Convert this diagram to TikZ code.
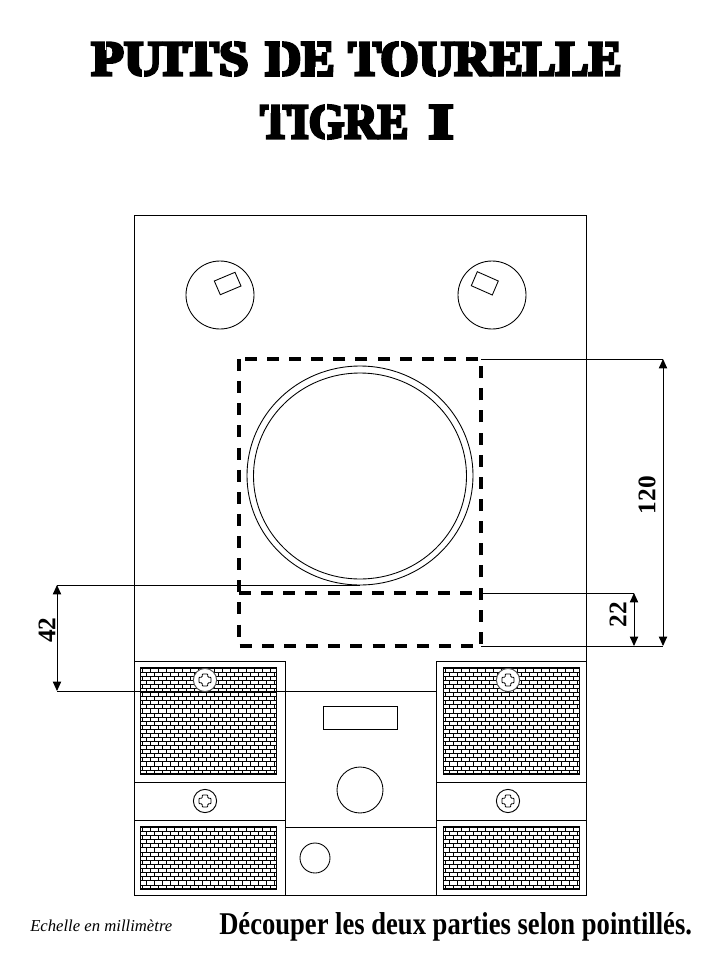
\documentclass[tikz,border=0pt]{standalone}
\usepackage{fontspec}
\usepackage{graphicx}
\setmainfont{Liberation Serif}
\usetikzlibrary{arrows.meta}
\tikzset{
  px/.style={x=0.75pt,y=-0.75pt},
  frameline/.style={line width=0.75pt,black},
  panelframe/.style={line width=0.95pt,black},
  thin line/.style={line width=0.65pt,black},
  brickline/.style={line width=0.42pt,black},
  cutline/.style={line width=2.4pt,black,dash pattern=on 9pt off 7.6pt},
  dimline/.style={line width=0.7pt,black,{Triangle[length=7pt,width=6.2pt]}-{Triangle[length=7pt,width=6.2pt]}},
  extline/.style={line width=0.7pt,black},
  dimtext/.style={font=\bfseries\fontsize{19}{20}\selectfont,rotate=90,inner sep=0pt},
  titletext/.style={inner sep=0pt,anchor=west},
  stencilgap/.style={line width=1pt,white},
  screwhead/.style={line width=0.7pt,fill=white,circle,minimum size=17.4pt,inner sep=0pt},
}
\newfontfamily\titlefont[FakeBold=6]{Liberation Serif Bold}
\newcommand{\brickpanel}[5]{%
  \begin{scope}
    \clip (#1,#2) rectangle (#3,#4);
    \foreach \r in {0,...,#5}{
      \pgfmathsetmacro{\yy}{#2+(#4-#2)*\r/(#5)}
      \draw[brickline] (#1,\yy) -- (#3,\yy);
      \pgfmathsetmacro{\yb}{#2+(#4-#2)*(\r+1)/(#5)}
      \pgfmathsetmacro{\off}{mod(\r,2)*4}
      \foreach \k in {0,...,17}{
        \pgfmathsetmacro{\xx}{#1+2+\off+\k*8}
        \draw[brickline] (\xx,\yy) -- (\xx,\yb);
      }
    }
  \end{scope}
  \draw[panelframe] (#1,#2) rectangle (#3,#4);
}
\newcommand{\screw}[4]{%
  \node[screwhead,draw=#4] (#1) at (#2,#3) {};
  \draw[thin line,rounded corners=0.6pt,shift={(#2,#3)}]
    (-2.8,-6)--(2.8,-6)--(2.8,-2.8)--(6,-2.8)--(6,2.8)--(2.8,2.8)--(2.8,6)--(-2.8,6)--(-2.8,2.8)--(-6,2.8)--(-6,-2.8)--(-2.8,-2.8)--cycle;
}
\begin{document}
\begin{tikzpicture}[px]
\useasboundingbox (0,0) rectangle (720,960);
\fill[white] (0,0) rectangle (720,960);

% title
\node[titletext] (t1) at (91,59) {\resizebox{118pt}{24.5pt}{\titlefont PUITS}};
\node[titletext] (t2) at (265,59) {\resizebox{52pt}{24.5pt}{\titlefont DE}};
\node[titletext] (t3) at (348,59) {\resizebox{205pt}{24.5pt}{\titlefont TOURELLE}};
\node[titletext] (t4) at (260,122) {\resizebox{111pt}{24.5pt}{\titlefont TIGRE}};
\node[titletext] (t5) at (428,122) {\resizebox{19pt}{24.5pt}{\titlefont I}};
% stencil bridges of the title letters
\foreach \x in {105.7,194,208,233,281,316,358,371,400,470,505,604}
  \draw[stencilgap] (\x,38) -- (\x,50);
\foreach \x in {143,233,281,316,400,437,505,538,571,604}
  \draw[stencilgap] (\x,67) -- (\x,80);
\foreach \x in {270,281,326,360,392}
  \draw[stencilgap] (\x,101) -- (\x,113);
\foreach \x in {326,392}
  \draw[stencilgap] (\x,130) -- (\x,143);

% body outline
\draw[frameline] (134,215) rectangle (586,895);
\draw[frameline] (134,661) -- (285,661) -- (285,895);
\draw[frameline] (586,661) -- (436,661) -- (436,895);
\draw[frameline] (134,782) -- (285,782);
\draw[frameline] (134,820) -- (285,820);
\draw[frameline] (436,782) -- (586,782);
\draw[frameline] (436,820) -- (586,820);
\draw[frameline] (285,827) -- (436,827);

% hatches (brick)
\brickpanel{140.5}{668}{276.5}{774}{26}
\brickpanel{443.5}{668}{579.5}{774}{26}
\brickpanel{140.5}{827}{276.5}{889}{15}
\brickpanel{443.5}{827}{579.5}{889}{15}

% top hatches
\draw[thin line] (220,295) circle[radius=34];
\draw[thin line] (492,295) circle[radius=34];
\draw[thin line] (214.3,281) -- (235,272.3) -- (241,286) -- (220.3,294.7) -- cycle;
\draw[thin line] (477.3,271.7) -- (498.3,281) -- (492.3,295) -- (471.3,285.7) -- cycle;

% turret ring
\draw[thin line] (360,475.5) ellipse[x radius=113,y radius=109.5];
\draw[thin line] (360,476) ellipse[x radius=106.5,y radius=103];

% centre parts
\draw[thin line] (323,706) rectangle (397,729);
\draw[thin line] (360,790) circle[radius=23];
\draw[thin line] (315,858) circle[radius=15];

% extension lines
\coordinate (a1) at (481,359); \coordinate (a2) at (663,359);
\coordinate (b1) at (481,646); \coordinate (b2) at (663,646);
\coordinate (c1) at (481,593); \coordinate (c2) at (634,593);
\coordinate (c3) at (634,646);
\coordinate (d1) at (360,585); \coordinate (d2) at (57,585);
\coordinate (e1) at (436,691); \coordinate (e2) at (57,691);
\draw[extline] (a1) -- (a2);
\draw[extline] (b1) -- (b2);
\draw[extline] (c1) -- (c2);
\draw[extline] (d1) -- (d2);
\draw[extline] (e1) -- (e2);
\draw[dimline] (a2) -- (b2);
\draw[dimline] (c2) -- (c3);
\draw[dimline] (d2) -- (e2);

% screws
\screw{s1}{205}{680}{black!70}
\screw{s2}{205}{801}{black}
\screw{s3}{508}{680}{black!70}
\screw{s4}{508}{801}{black}

% cut lines
\draw[cutline] (239,359) rectangle (481,646);
\draw[cutline] (239,593) -- (481,593);

% labels
\node[dimtext] (l120) at (647,495) {120};
\node[dimtext] (l22) at (618,614.5) {22};
\node[dimtext] (l42) at (47,630) {42};

% footer
\node[inner sep=0pt,anchor=west] (scale) at (30,926) {\resizebox{106.5pt}{!}{\itshape Echelle en millimètre}};
\node[inner sep=0pt,anchor=west] (note) at (219,927) {\resizebox{354.5pt}{16.5pt}{\bfseries Découper les deux parties selon pointillés.}};
\end{tikzpicture}
\end{document}
